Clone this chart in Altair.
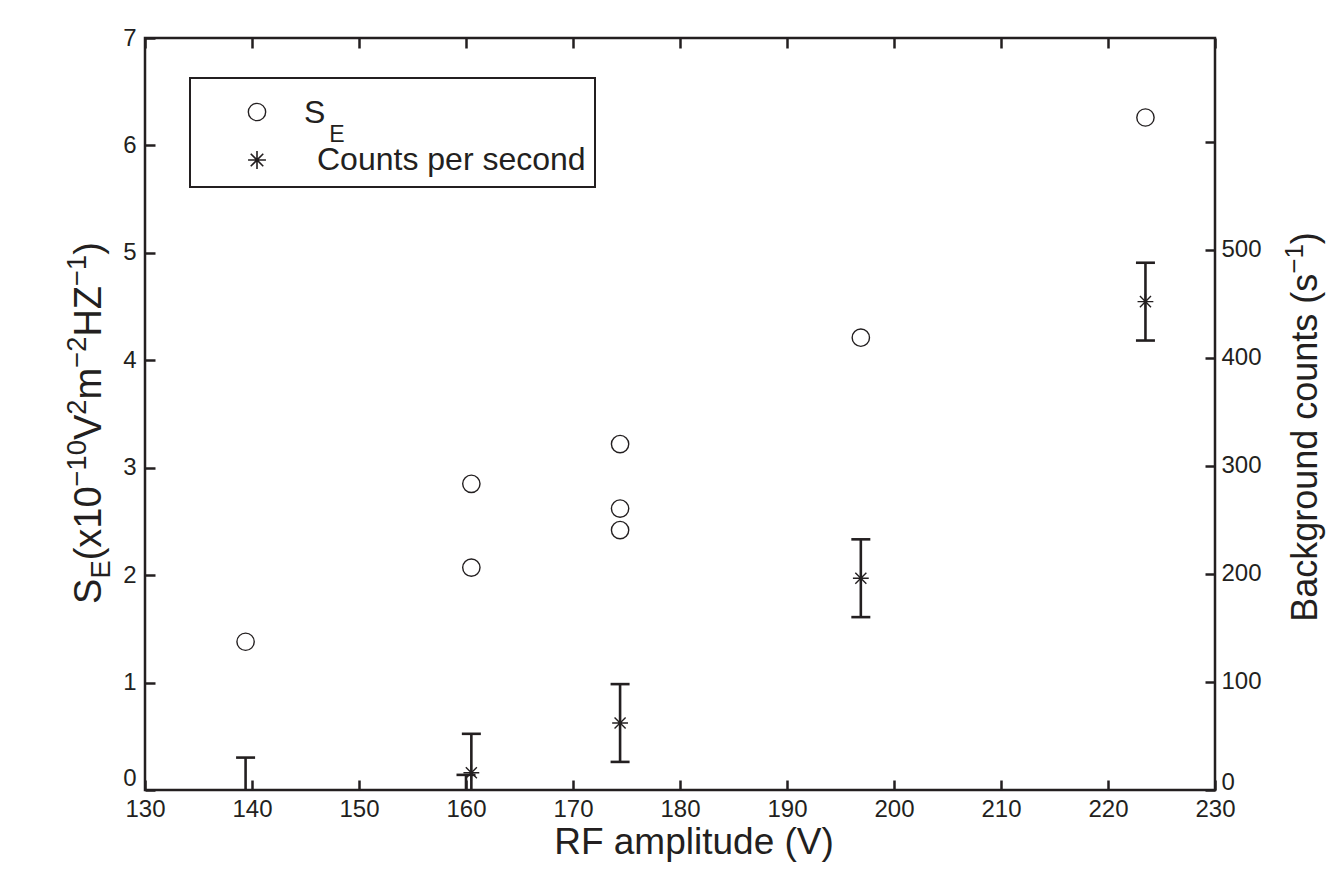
import altair as alt
import pandas as pd

# ---------------- data ----------------
rf_se = [139.4, 160.5, 160.5, 174.4, 174.4, 174.4, 196.9, 223.5]
se_values = [1.38, 2.07, 2.85, 2.42, 2.62, 3.22, 4.21, 6.26]

rf_counts = [139.4, 160.0, 160.5, 174.4, 196.9, 223.5]
counts = [-6, -22, 16, 62, 196, 452]
counts_err = [36, 36, 36, 36, 36, 36]

x_ticks = list(range(130, 231, 10))
left_ticks = list(range(0, 8))
right_ticks = list(range(0, 601, 100))

x_title = "RF amplitude (V)"
legend_se = ["S", "E"]
legend_counts = "Counts per second"
left_title_parts = [("S", "main"), ("E", "sub"), ("(x10", "main"), ("\u221210", "sup"),
                    ("V", "main"), ("2", "sup"), ("m", "main"), ("\u22122", "sup"),
                    ("HZ", "main"), ("\u22121", "sup"), (")", "main")]
right_title_parts = [("Background counts (s", "main"), ("\u22121", "sup"), (")", "main")]

# ---------------- styling / layout ----------------
W, H = 1070, 752
FONT = "Liberation Sans"
INK = "#231f20"
TITLE_SIZE = 37
TICK_SIZE = 24
STAR = "M0,-1L0,1M-1,0L1,0M-0.7,-0.7L0.7,0.7M-0.7,0.7L0.7,-0.7"

ARIAL = {" ": 278, "(": 333, ")": 333, "-": 333, "\u2212": 584, "B": 667, "C": 722,
         "E": 667, "H": 722, "S": 667, "V": 667, "Z": 611, "a": 556, "c": 500,
         "d": 556, "e": 556, "g": 556, "k": 500, "m": 833, "n": 556, "o": 556,
         "p": 556, "r": 333, "s": 500, "t": 278, "u": 556, "x": 500}


def text_width(s, size):
    return sum(ARIAL.get(ch, 556) for ch in s) * size / 1000.0


one = pd.DataFrame({"k": [0]})


def rotated_title(parts, base_x, center_y, size):
    sizes = {"main": size, "sup": size * 0.72, "sub": size * 0.72}
    shifts = {"main": 0, "sup": -size * 0.40, "sub": size * 0.24}
    total = sum(text_width(t, sizes[k]) for t, k in parts)
    y = center_y + total / 2
    layers = []
    for t, k in parts:
        layers.append(
            alt.Chart(one).mark_text(text=t, angle=270, align="left", baseline="alphabetic",
                                     font=FONT, fontSize=sizes[k], color=INK)
            .encode(x=alt.value(base_x + shifts[k]), y=alt.value(y))
        )
        y -= text_width(t, sizes[k])
    return layers


se_df = pd.DataFrame({"rf": rf_se, "se": se_values})
c_df = pd.DataFrame({"rf": rf_counts, "cps": counts, "err": counts_err})
c_df["lo"] = c_df["cps"] - c_df["err"]
c_df["hi"] = c_df["cps"] + c_df["err"]

xscale = alt.Scale(domain=[130, 230], nice=False, zero=False)
lscale = alt.Scale(domain=[0, 7], nice=False)
rscale = alt.Scale(domain=[0, 696], nice=False)

common = dict(domain=False, grid=False, ticks=True, tickSize=10, tickWidth=2.5,
              tickColor=INK, labelFont=FONT, labelFontSize=TICK_SIZE, labelColor=INK,
              offset=-10, title=None, labelFlush=False, labelOverlap=False, labelBound=False)

x_bottom = alt.Axis(orient="bottom", values=x_ticks, labelPadding=7, **common)
x_top = alt.Axis(orient="top", values=x_ticks, labels=False, **common)
y_left = alt.Axis(orient="left", values=left_ticks, labelPadding=9,
                  labelBaseline={"condition": {"test": "datum.value == 0", "value": "bottom"},
                                 "value": "middle"},
                  **common)
y_right = alt.Axis(orient="right", values=right_ticks, labelPadding=6, labelAlign="left",
                   labelExpr="datum.value <= 500 ? datum.label : ''",
                   labelBaseline={"condition": {"test": "datum.value == 0", "value": "bottom"},
                                  "value": "middle"},
                   labelOffset={"condition": {"test": "datum.value == 0", "value": 4},
                                "value": 0},
                   **common)

se_layer = alt.Chart(se_df).mark_point(shape="circle", filled=False, size=300, strokeWidth=1.4,
                                       color=INK, opacity=1).encode(
    x=alt.X("rf:Q", scale=xscale, axis=x_bottom),
    y=alt.Y("se:Q", scale=lscale, axis=y_left),
)

rules = alt.Chart(c_df).mark_rule(strokeWidth=2.6, color=INK, clip=True).encode(
    x=alt.X("rf:Q", scale=xscale, axis=None),
    y=alt.Y("lo:Q", scale=rscale, axis=None),
    y2="hi:Q",
)
caps_hi = alt.Chart(c_df).mark_tick(orient="horizontal", size=19, thickness=2.6, color=INK,
                                    opacity=1, clip=True).encode(
    x=alt.X("rf:Q", scale=xscale, axis=None),
    y=alt.Y("hi:Q", scale=rscale, axis=None),
)
caps_lo = alt.Chart(c_df).mark_tick(orient="horizontal", size=19, thickness=2.6, color=INK,
                                    opacity=1, clip=True).encode(
    x=alt.X("rf:Q", scale=xscale, axis=None),
    y=alt.Y("lo:Q", scale=rscale, axis=None),
)
stars = alt.Chart(c_df).mark_point(shape=STAR, size=250, strokeWidth=1.4, filled=False,
                                   color=INK, opacity=1, clip=True).encode(
    x=alt.X("rf:Q", scale=xscale, axis=x_top),
    y=alt.Y("cps:Q", scale=rscale, axis=y_right),
)

# ---------------- legend ----------------
leg_box = alt.Chart(one).mark_rect(fill="white", stroke=INK, strokeWidth=2).encode(
    x=alt.value(45), x2=alt.value(450), y=alt.value(40), y2=alt.value(149))
leg_circle = alt.Chart(one).mark_point(shape="circle", filled=False, size=300, strokeWidth=1.4,
                                       color=INK, opacity=1).encode(
    x=alt.value(112), y=alt.value(74))
leg_star = alt.Chart(one).mark_point(shape=STAR, size=320, strokeWidth=1.6, filled=False,
                                     color=INK, opacity=1).encode(
    x=alt.value(112), y=alt.value(122))
leg_s = alt.Chart(one).mark_text(text=legend_se[0], align="left", baseline="alphabetic",
                                 font=FONT, fontSize=32, color=INK).encode(
    x=alt.value(159), y=alt.value(85))
leg_e = alt.Chart(one).mark_text(text=legend_se[1], align="left", baseline="alphabetic",
                                 font=FONT, fontSize=23, color=INK).encode(
    x=alt.value(163 + text_width("S", 32)), y=alt.value(104))
leg_c = alt.Chart(one).mark_text(text=legend_counts, align="left", baseline="middle",
                                 font=FONT, fontSize=32, color=INK).encode(
    x=alt.value(172), y=alt.value(122))

# ---------------- titles ----------------
xt = alt.Chart(one).mark_text(text=x_title, align="center", baseline="middle",
                              font=FONT, fontSize=TITLE_SIZE, color=INK).encode(
    x=alt.value(549), y=alt.value(805))
left_t = rotated_title(left_title_parts, -44, 385, 38)
right_t = rotated_title(right_title_parts, 1172, 389, 36)

chart = alt.layer(
    se_layer, rules, caps_hi, caps_lo, stars,
    leg_box, leg_circle, leg_star, leg_s, leg_e, leg_c,
    xt, *left_t, *right_t,
).resolve_scale(x="independent", y="independent").resolve_axis(
    x="independent", y="independent"
).properties(
    width=W, height=H,
    autosize=alt.AutoSizeParams(type="none"),
    padding={"left": 137, "top": 30, "right": 112, "bottom": 80},
    background="white",
).configure_view(stroke=INK, strokeWidth=2.5)

chart.save("out.html", embed_options={"renderer": "svg", "actions": False})
